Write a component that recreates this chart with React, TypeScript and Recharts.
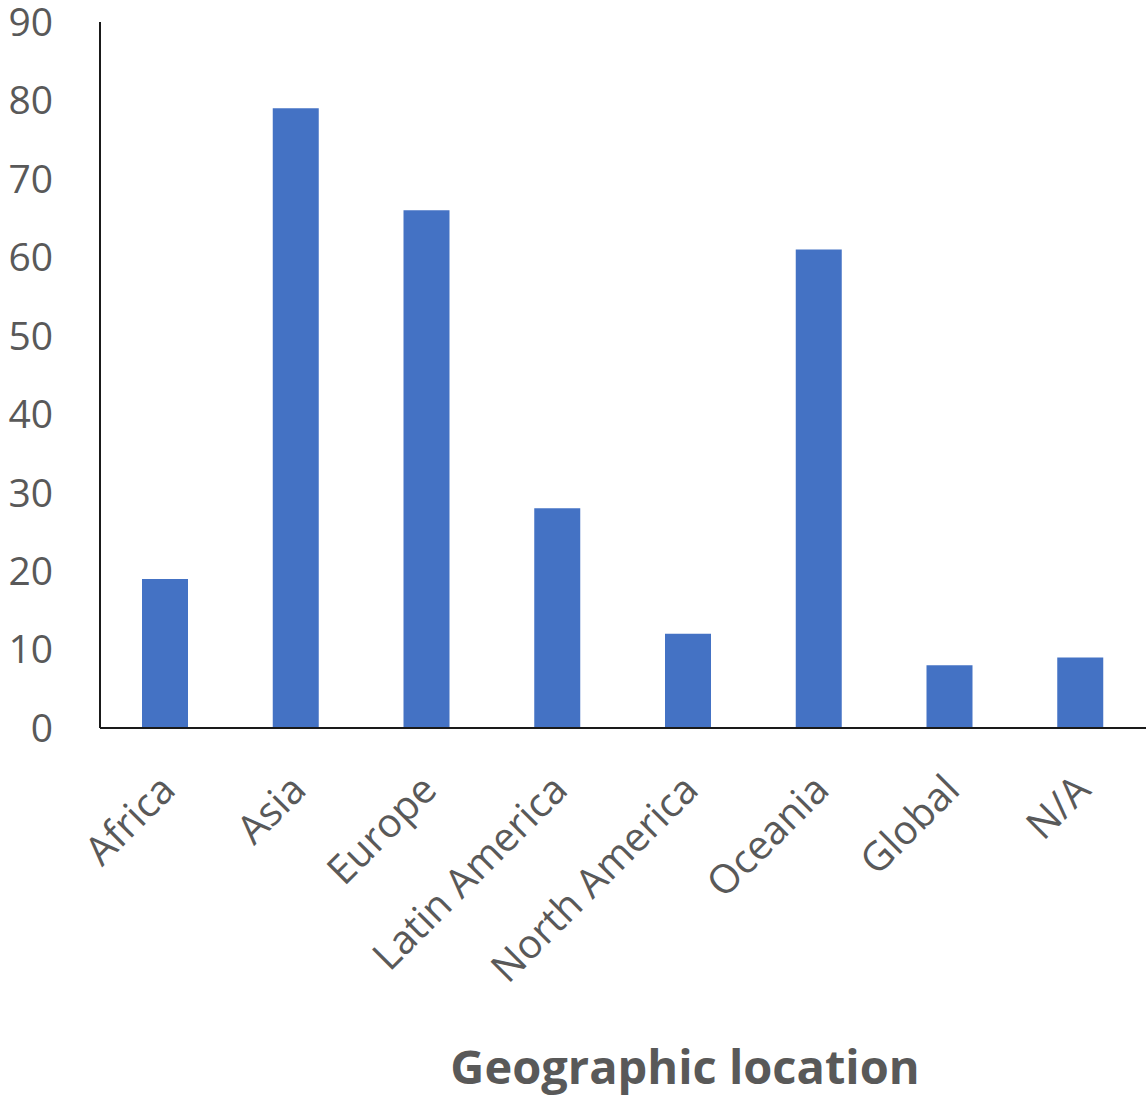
import React from 'react';
import { BarChart, Bar, XAxis, YAxis } from 'recharts';

const regions = ['Africa', 'Asia', 'Europe', 'Latin America', 'North America', 'Oceania', 'Global', 'N/A'];
const counts = [19, 79, 66, 28, 12, 61, 8, 9];
const yTicks = [0, 10, 20, 30, 40, 50, 60, 70, 80, 90];

const data = regions.map((region, i) => ({ region, count: counts[i] }));

const GREY = '#595959';
const FONT = '"Open Sans", "Noto Sans", sans-serif';

const AxisTitle = (props: any) => {
  const vb = props.viewBox;
  return (
    <text
      x={vb.x + vb.width / 2 + 62}
      y={vb.y + vb.height - 22}
      textAnchor="middle"
      fill={GREY}
      fontSize={47}
      fontWeight={700}
      fontFamily={FONT}
    >
      Geographic location
    </text>
  );
};

const App: React.FC = () => {
  return (
    <div style={{ position: 'absolute', left: 0, top: 0, background: '#fff' }}>
      <BarChart
        width={1146}
        height={1106}
        data={data}
        margin={{ top: 22, right: 0, left: 0, bottom: 0 }}
      >
        <XAxis
          dataKey="region"
          height={378}
          interval={0}
          tickLine={false}
          tickSize={0}
          tickMargin={44}
          angle={-45}
          textAnchor="end"
          axisLine={{ stroke: '#1a1a1a', strokeWidth: 2 }}
          tick={{ fill: GREY, fontSize: 40, fontFamily: FONT, dx: -8 }}
          label={<AxisTitle />}
        />
        <YAxis
          width={100}
          domain={[0, 90]}
          ticks={yTicks}
          interval={0}
          tickLine={false}
          tickSize={0}
          tickMargin={47}
          axisLine={{ stroke: '#1a1a1a', strokeWidth: 2 }}
          tick={{ fill: GREY, fontSize: 39, fontFamily: FONT }}
        />
        <Bar dataKey="count" fill="#4472C4" barSize={46} isAnimationActive={false} />
      </BarChart>
    </div>
  );
};

export default App;
